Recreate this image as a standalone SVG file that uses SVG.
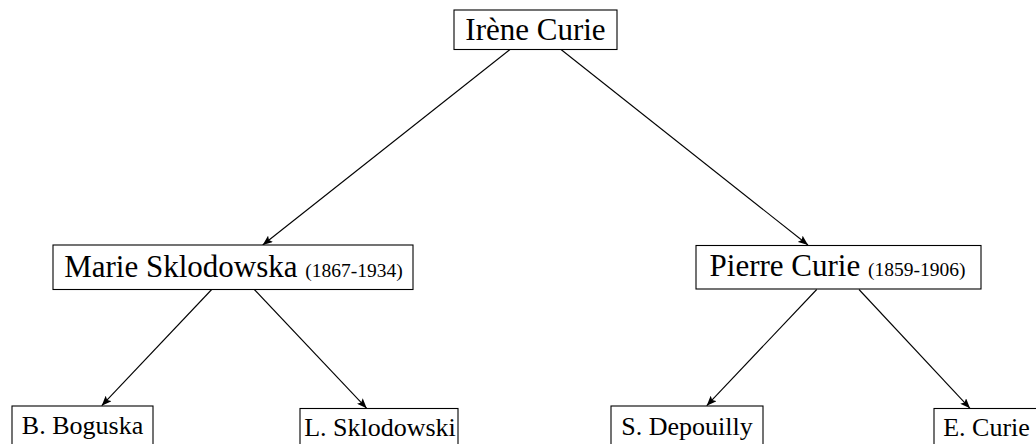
<svg xmlns="http://www.w3.org/2000/svg" width="1036" height="444" viewBox="0 0 1036 444">
<style>
  .box { fill: #ffffff; stroke: #000000; stroke-width: 1.1; }
  .t { font-family: "Liberation Serif", "Times New Roman", serif; fill: #000000; text-anchor: middle; }
  .big { font-size: 31px; }
  .yr { font-size: 19.5px; }
  .small { font-size: 26px; }
  .edge { stroke: #000000; stroke-width: 1.1; fill: none; marker-end: url(#arr); }
</style>
<defs>
  <marker id="arr" viewBox="0 0 10 8" refX="10" refY="4" markerWidth="10" markerHeight="8" markerUnits="userSpaceOnUse" orient="auto">
    <path d="M0,0 L10,4 L0,8 L2,4 Z" fill="#000000"/>
  </marker>
</defs>
<rect width="1036" height="444" fill="#ffffff"/>
<g id="connectors">
  <line class="edge" x1="510" y1="49.5" x2="262.7" y2="245"/>
  <line class="edge" x1="561" y1="49.5" x2="808" y2="245"/>
  <line class="edge" x1="211.7" y1="289.5" x2="101.7" y2="405.7"/>
  <line class="edge" x1="254.3" y1="289.5" x2="366.7" y2="408.3"/>
  <line class="edge" x1="816.7" y1="289.5" x2="706.7" y2="405.7"/>
  <line class="edge" x1="859" y1="289.5" x2="970" y2="408.3"/>
</g>
<g id="irene">
  <rect class="box" x="454" y="10" width="163" height="39.5"/>
  <text class="t big" x="535.5" y="39.5">Irène Curie</text>
</g>
<g id="marie">
  <rect class="box" x="53" y="245" width="360" height="44.5"/>
  <text class="t big" x="233.5" y="276.5">Marie Sklodowska <tspan class="yr">(1867-1934)</tspan></text>
</g>
<g id="pierre">
  <rect class="box" x="696" y="245.5" width="285" height="43.5"/>
  <text class="t big" x="837.5" y="276">Pierre Curie <tspan class="yr">(1859-1906)</tspan></text>
</g>
<g id="boguska">
  <rect class="box" x="12" y="406" width="141" height="44"/>
  <text class="t small" x="82.5" y="433.5">B. Boguska</text>
</g>
<g id="lsklodowski">
  <rect class="box" x="300" y="408.5" width="158" height="44"/>
  <text class="t small" x="380" y="435.5">L. Sklodowski</text>
</g>
<g id="depouilly">
  <rect class="box" x="611" y="406" width="152" height="44"/>
  <text class="t small" x="687" y="434.5">S. Depouilly</text>
</g>
<g id="ecurie">
  <rect class="box" x="934" y="408.5" width="106" height="44"/>
  <text class="t small" x="986.5" y="435.5">E. Curie</text>
</g>
</svg>
